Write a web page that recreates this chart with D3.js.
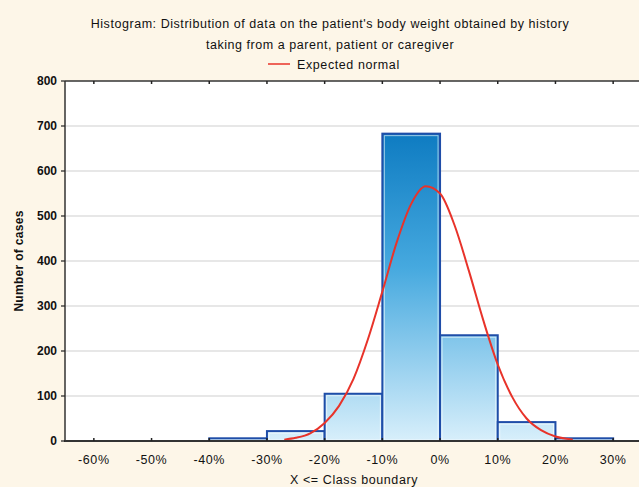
<!DOCTYPE html>
<html>
<head>
<meta charset="utf-8">
<script src="https://cdn.jsdelivr.net/npm/d3@7"></script>
<style>
  html, body { margin: 0; padding: 0; background: #fdf6e8; }
  svg { display: block; font-family: "Liberation Sans", Arial, sans-serif; }
</style>
</head>
<body>
<script>
// class boundaries (upper edge, %) and counts per class
const binEdges = [-40, -30, -20, -10, 0, 10, 20, 30];
const binCounts = [6, 22, 105, 683, 235, 42, 6];

// expected normal curve
const curveX = [-27, -25, -22.5, -20, -17.5, -15, -12.5, -10, -7.5, -5, -2.5, 0, 2.5, 5, 7.5, 10, 12.5, 15, 17.5, 20, 22.5, 23];
const curveY = [3, 7, 17, 40, 78, 138, 226, 332, 442, 527, 566, 550, 480, 378, 268, 170, 98, 50, 24, 10, 4, 3];

const xTicks = [-60, -50, -40, -30, -20, -10, 0, 10, 20, 30];
const yTicks = [0, 100, 200, 300, 400, 500, 600, 700, 800];

const titleLines = [
  "Histogram: Distribution of data on the patient's  body weight obtained by history",
  "taking from a parent, patient or caregiver",
];

const baseWidth = 639,
  baseHeight = 487;

const plot = { left: 65, right: 642, top: 81, bottom: 441 };

const x = d3.scaleLinear().domain([-65, 35]).range([plot.left, plot.right]),
  y = d3.scaleLinear().domain([0, 800]).range([plot.bottom, plot.top]);

const svg = d3
  .select("body")
  .append("svg")
  .attr("width", baseWidth)
  .attr("height", baseHeight);

svg
  .append("rect")
  .attr("width", baseWidth)
  .attr("height", baseHeight)
  .attr("fill", "#fdf6e8");

// gradient for the bars, spread over the whole plot height
const grad = svg
  .append("defs")
  .append("linearGradient")
  .attr("id", "barFill")
  .attr("gradientUnits", "userSpaceOnUse")
  .attr("x1", 0)
  .attr("x2", 0)
  .attr("y1", y(700))
  .attr("y2", y(0));
grad.append("stop").attr("offset", "0%").attr("stop-color", "#0b79c0");
grad.append("stop").attr("offset", "45%").attr("stop-color", "#46a9df");
grad.append("stop").attr("offset", "100%").attr("stop-color", "#d8effb");

// plot area
svg
  .append("rect")
  .attr("x", plot.left)
  .attr("y", plot.top)
  .attr("width", baseWidth - plot.left)
  .attr("height", plot.bottom - plot.top)
  .attr("fill", "#ffffff");

// grid
svg
  .append("g")
  .selectAll("line")
  .data(yTicks.filter((d) => d > 0 && d < 800))
  .enter()
  .append("line")
  .attr("x1", plot.left)
  .attr("x2", baseWidth)
  .attr("y1", (d) => y(d))
  .attr("y2", (d) => y(d))
  .attr("stroke", "#cfcfcf")
  .attr("stroke-width", 1.2);

// bars
const bars = svg
  .append("g")
  .selectAll("g")
  .data(binCounts)
  .enter()
  .append("g");

bars
  .append("rect")
  .attr("x", (d, i) => x(binEdges[i]))
  .attr("y", (d) => y(d))
  .attr("width", (d, i) => x(binEdges[i + 1]) - x(binEdges[i]))
  .attr("height", (d) => y(0) - y(d))
  .attr("fill", "url(#barFill)")
  .attr("stroke", "#1f4da8")
  .attr("stroke-width", 2);

// thin light inner edge like the original rendering
bars
  .append("rect")
  .attr("x", (d, i) => x(binEdges[i]) + 2)
  .attr("y", (d) => y(d) + 2)
  .attr("width", (d, i) => Math.max(0, x(binEdges[i + 1]) - x(binEdges[i]) - 4))
  .attr("height", (d) => Math.max(0, y(0) - y(d) - 3))
  .attr("fill", "none")
  .attr("stroke", "#ffffff")
  .attr("stroke-opacity", 0.6)
  .attr("stroke-width", 1);

// expected normal
const line = d3
  .line()
  .x((d) => x(d[0]))
  .y((d) => y(d[1]))
  .curve(d3.curveMonotoneX);

svg
  .append("path")
  .datum(curveX.map((v, i) => [v, curveY[i]]))
  .attr("d", line)
  .attr("fill", "none")
  .attr("stroke", "#e8332a")
  .attr("stroke-width", 2);

// axes frame
svg
  .append("line")
  .attr("x1", plot.left)
  .attr("x2", plot.left)
  .attr("y1", plot.top)
  .attr("y2", plot.bottom)
  .attr("stroke", "#333")
  .attr("stroke-width", 1.5);
svg
  .append("line")
  .attr("x1", plot.left)
  .attr("x2", baseWidth)
  .attr("y1", plot.top)
  .attr("y2", plot.top)
  .attr("stroke", "#333")
  .attr("stroke-width", 1.5);
svg
  .append("line")
  .attr("x1", plot.left - 1)
  .attr("x2", baseWidth)
  .attr("y1", plot.bottom)
  .attr("y2", plot.bottom)
  .attr("stroke", "#333")
  .attr("stroke-width", 2);

// x ticks (inward, top and bottom)
const xt = svg.append("g").selectAll("g").data(xTicks).enter().append("g");
xt.append("line")
  .attr("x1", (d) => x(d))
  .attr("x2", (d) => x(d))
  .attr("y1", plot.bottom)
  .attr("y2", plot.bottom - 3)
  .attr("stroke", "#222")
  .attr("stroke-width", 1.5);
xt.append("line")
  .attr("x1", (d) => x(d))
  .attr("x2", (d) => x(d))
  .attr("y1", plot.top)
  .attr("y2", plot.top + 3)
  .attr("stroke", "#222")
  .attr("stroke-width", 1.5);
xt.append("text")
  .attr("x", (d) => x(d))
  .attr("y", plot.bottom + 23)
  .attr("text-anchor", "middle")
  .attr("font-size", 12.5)
  .attr("letter-spacing", 0.6)
  .attr("fill", "#111")
  .text((d) => d + "%");

// y ticks
const yt = svg.append("g").selectAll("g").data(yTicks).enter().append("g");
yt.append("line")
  .attr("x1", plot.left - 4)
  .attr("x2", plot.left)
  .attr("y1", (d) => y(d))
  .attr("y2", (d) => y(d))
  .attr("stroke", "#222")
  .attr("stroke-width", 1.2);
yt.append("text")
  .attr("x", plot.left - 8)
  .attr("y", (d) => y(d))
  .attr("dy", ".35em")
  .attr("text-anchor", "end")
  .attr("font-size", 12)
  .attr("font-weight", "bold")
  .attr("fill", "#111")
  .text((d) => d);

// axis titles
svg
  .append("text")
  .attr("transform", "translate(23," + (plot.top + plot.bottom) / 2 + ") rotate(-90)")
  .attr("text-anchor", "middle")
  .attr("font-size", 12)
  .attr("font-weight", "bold")
  .attr("letter-spacing", 0.3)
  .attr("fill", "#111")
  .text("Number of cases");

svg
  .append("text")
  .attr("x", 354)
  .attr("y", 484)
  .attr("text-anchor", "middle")
  .attr("font-size", 12.5)
  .attr("letter-spacing", 0.6)
  .attr("fill", "#111")
  .text("X <= Class boundary");

// title
svg
  .append("g")
  .selectAll("text")
  .data(titleLines)
  .enter()
  .append("text")
  .attr("x", 330)
  .attr("y", (d, i) => 28 + i * 21)
  .attr("text-anchor", "middle")
  .attr("font-size", 12.5)
  .attr("letter-spacing", 0.55)
  .attr("fill", "#111")
  .text((d) => d);

// legend
svg
  .append("line")
  .attr("x1", 268)
  .attr("x2", 290)
  .attr("y1", 64)
  .attr("y2", 64)
  .attr("stroke", "#e8332a")
  .attr("stroke-width", 1.5);
svg
  .append("text")
  .attr("x", 297)
  .attr("y", 69)
  .attr("font-size", 12.5)
  .attr("letter-spacing", 0.6)
  .attr("fill", "#111")
  .text("Expected normal");
</script>
</body>
</html>
